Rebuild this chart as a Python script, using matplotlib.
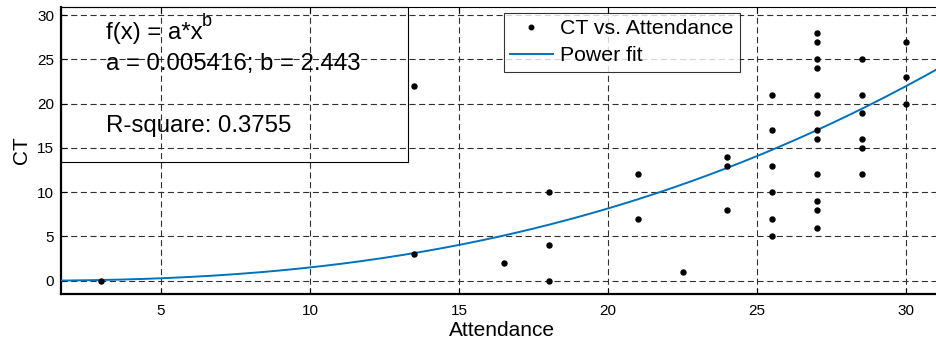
import numpy as np
import matplotlib.pyplot as plt
from matplotlib.patches import Rectangle

# observed points (Attendance, CT)
attendance = [3, 13.5, 13.5, 16.5, 18, 18, 18, 21, 21, 22.5, 24, 24, 24,
              25.5, 25.5, 25.5, 25.5, 25.5, 25.5,
              27, 27, 27, 27, 27, 27, 27, 27, 27, 27, 27, 27,
              28.5, 28.5, 28.5, 28.5, 28.5, 28.5,
              30, 30, 30]
ct = [0, 3, 22, 2, 0, 4, 10, 7, 12, 1, 8, 13, 14,
      5, 7, 10, 13, 17, 21,
      6, 8, 9, 12, 16, 17, 19, 21, 24, 25, 27, 28,
      12, 15, 16, 19, 21, 25,
      20, 23, 27]

# power fit parameters as printed on the chart
fit_a = 0.005416
fit_b = 2.443
r_square = 0.3755

x_ticks = [5, 10, 15, 20, 25, 30]
y_ticks = [0, 5, 10, 15, 20, 25, 30]

W, H = 937, 343


def px(x, y):
    # pixel position in the picture -> figure fraction
    return x / W, 1 - y / H


def main():
    plt.rcParams['font.family'] = ['Liberation Sans', 'DejaVu Sans']
    fig = plt.figure(figsize=(W / 100, H / 100), dpi=100)
    left, bottom = px(61, 294)
    right, top = px(942, 6.7)
    ax = fig.add_axes([left, bottom, right - left, top - bottom])

    xlim = (1.644, 31.2)
    ax.set_xlim(*xlim)
    ax.set_ylim(-1.5, 30.95)

    grid_kw = dict(color='#303030', linewidth=0.8, dashes=(5.5, 3.2))
    ax.set_xticks(x_ticks)
    ax.set_yticks(y_ticks)
    ax.grid(True, linestyle='--', **grid_kw)
    ax.set_axisbelow(True)

    xf = np.linspace(xlim[0], xlim[1], 300)
    fit_line, = ax.plot(xf, fit_a * xf ** fit_b, color='#0072BD', lw=1.4, zorder=3)
    pts, = ax.plot(attendance, ct, 'o', color='black', markersize=3.6, zorder=4)

    ax.tick_params(direction='in', length=4, width=0.8, labelsize=11,
                   top=True, right=False, colors='black')
    ax.tick_params(axis='x', pad=7)
    ax.tick_params(axis='y', pad=5)
    for s in ['left', 'bottom']:
        ax.spines[s].set_linewidth(1.6)
    ax.spines['top'].set_linewidth(0.8)
    ax.spines['right'].set_visible(False)

    ax.set_xlabel('Attendance', fontsize=15, labelpad=2)
    ax.set_ylabel('CT', fontsize=15, labelpad=4)

    leg = ax.legend([pts, fit_line], ['CT vs. Attendance', 'Power fit'],
                    loc='upper left', bbox_to_anchor=(0.5026, 0.978),
                    fontsize=15.3, frameon=True, fancybox=False,
                    borderpad=0.3, labelspacing=0.38, handlelength=2.0,
                    handletextpad=0.35, borderaxespad=0, markerscale=0.9)
    leg.get_frame().set_edgecolor('black')
    leg.get_frame().set_linewidth(0.8)

    # results box in the top left corner
    x0, y0 = px(61, 162.3)
    x1, y1 = px(408, 6.7)
    fig.add_artist(Rectangle((x0, y0), x1 - x0, y1 - y0, transform=fig.transFigure,
                             fill=False, edgecolor='black', linewidth=0.8))
    fig.text(*px(106, 39), 'f(x) = a*x', fontsize=17.3, va='baseline')
    fig.text(*px(202, 26), 'b', fontsize=13, va='baseline')
    fig.text(*px(106, 70), 'a = %g; b = %g' % (fit_a, fit_b), fontsize=17.3, va='baseline')
    fig.text(*px(106, 132), 'R-square: %g' % r_square, fontsize=17.3, va='baseline')

    fig.savefig('out.png', dpi=100)


if __name__ == '__main__':
    main()
